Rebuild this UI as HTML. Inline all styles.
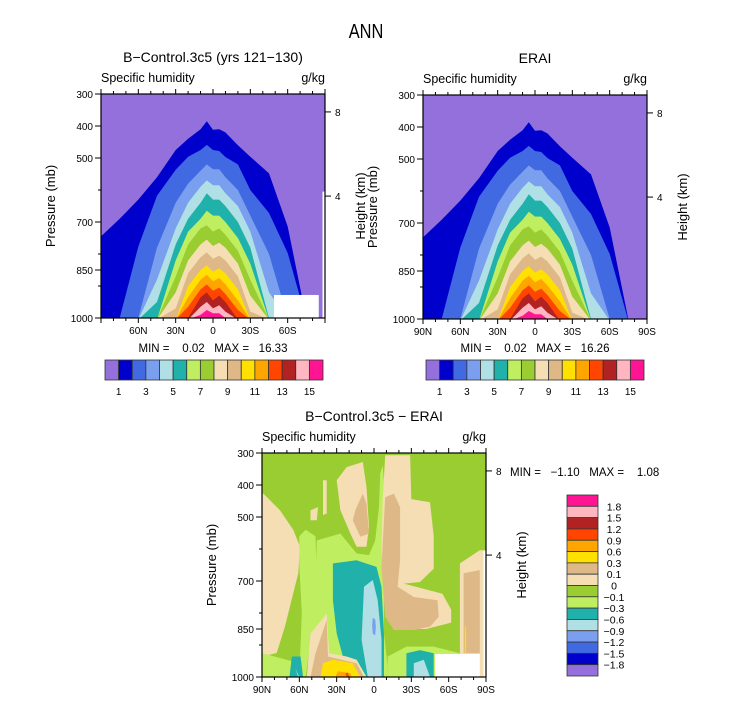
<!DOCTYPE html>
<html><head><meta charset="utf-8"><style>
body{margin:0;background:#fff;}
svg text{font-family:"Liberation Sans",sans-serif;fill:#000;}
</style></head><body>
<svg id="fig" width="733" height="702" viewBox="0 0 733 702" xmlns="http://www.w3.org/2000/svg">
<text x="366" y="38" font-size="20" text-anchor="middle" transform="translate(366 0) scale(0.82 1) translate(-366 0)">ANN</text>
</svg>
<script>
const NS="http://www.w3.org/2000/svg";
const svg=document.getElementById('fig');
const absColors=["#9370DB","#0000CD","#4169E1","#7B9FEF","#B0E0E6","#20B2AA","#BFEF60","#9ACD32","#F5DEB3","#DEB887","#FFE000","#FFA500","#FF4500","#B22222","#FFB6C1","#FF1493"];
const absTicks=["1","3","5","7","9","11","13","15"];
const diffLabels=["1.8","1.5","1.2","0.9","0.6","0.3","0.1","0","\u22120.1","\u22120.3","\u22120.6","\u22120.9","\u22121.2","\u22121.5","\u22121.8"];
const diffColors=["#FF1493","#FFB6C1","#B22222","#FF4500","#FFA500","#FFE000","#DEB887","#F5DEB3","#9ACD32","#BFEF60","#20B2AA","#B0E0E6","#7B9FEF","#4169E1","#0000CD","#9370DB"];
const lats=[90,75,60,45,30,20,10,5,0,-5,-10,-20,-30,-45,-60,-75,-90];
// pressure (mb) of the upper boundary of each level band (>=1000 => no fill)
const levelBounds=[
[745,690,630,560,475,440,410,385,412,410,420,460,496,548,714,1000,1010],
[1010,1000,777,618,537,496,475,459,475,478,497,520,600,672,797,1010,1010],
[1010,1010,1000,780,640,580,540,520,535,535,560,600,680,800,1000,1010,1010],
[1010,1010,1005,880,720,640,590,570,585,585,610,650,730,920,1010,1010,1010],
[1010,1010,1010,950,770,690,640,610,630,630,650,700,780,1000,1010,1010,1010],
[1010,1010,1010,1005,820,730,690,665,680,680,700,750,830,1010,1010,1010,1010],
[1010,1010,1010,1010,870,770,720,710,730,720,740,790,880,1010,1010,1010,1010],
[1010,1010,1010,1010,920,820,770,755,775,765,780,830,930,1010,1010,1010,1010],
[1010,1010,1010,1010,970,860,810,795,815,805,820,870,980,1010,1010,1010,1010],
[1010,1010,1010,1010,1005,900,850,835,855,845,860,910,1010,1010,1010,1010,1010],
[1010,1010,1010,1010,1010,935,880,865,885,875,895,945,1010,1010,1010,1010,1010],
[1010,1010,1010,1010,1010,965,910,895,915,905,925,975,1010,1010,1010,1010,1010],
[1010,1010,1010,1010,1010,1000,935,920,945,930,950,1005,1010,1010,1010,1010,1010],
[1010,1010,1010,1010,1010,1010,965,950,970,960,980,1010,1010,1010,1010,1010,1010],
[1010,1010,1010,1010,1010,1010,990,975,985,985,1000,1010,1010,1010,1010,1010,1010]];
// diff regions: [color index into diffColors, lat list, pressure list]
const diffRegions=[
[7,[88.9,75.5,64.8,59.5,60.8,66.2,71.5,78.2,90,90],[427,479,541,593,676,759,842,925,936,427]],
[9,[90,80,60,55,90],[925,936,957,1000,1000]],
[9,[60,55,47,46,50,55,60,58,60],[560,540,560,700,860,1000,1000,800,650]],
[10,[66,59,57,68],[936,936,1000,1000]],
[11,[63,60,61],[975,1000,1000]],
[9,[46,27,14,4,-1,-4,-5,-7,-9,-8,-8,-11,-11,51,51,47],[573,552,614,619,573,469,365,339,448,656,864,968,1000,1000,864,708]],
[10,[33,14,-2,-6,-8,-8,6,14,25,30,33],[645,635,656,718,864,1000,1000,946,936,864,760]],
[11,[8,1,-3,-6,-6,5,10],[718,697,760,884,1000,1000,884]],
[12,[1,-1,-1.5,-1,1,1.5],[815,820,845,870,865,840]],
[7,[54,51,38,36,22,14,6],[1000,864,802,926,936,946,1000]],
[6,[51,47,38,37,14,8],[1000,926,822,936,957,1000]],
[5,[43,41,33,17,11],[1000,957,946,957,1000]],
[4,[31,29,19,18],[1000,982,988,1000]],
[3,[23,21,20,22],[990,986,1000,1000]],
[7,[30,22,9,6,4,6,14,19,27],[385,344,328,406,531,593,593,552,479]],
[6,[15,9,6,4,11,17],[479,427,458,552,562,510]],
[7,[51,45,46,51],[479,469,510,510]],
[7,[41,38,38,41],[385,385,489,494]],
[7,[-9,-29,-30,-45,-48,-48,-37,-24,-55,-62,-62,-42,-25,-14,-9,-6,-7],[307,307,444,454,558,662,703,708,740,790,830,850,850,820,760,604,448]],
[6,[-9,-16,-21,-21,-19,-32,-51,-52,-45,-32,-16,-9,-6],[438,427,469,635,718,750,760,812,843,853,853,812,656]],
[7,[-69,-85,-89,-89,-69,-69],[645,604,604,1000,1000,864]],
[6,[-72,-85,-85,-72],[676,666,926,926]],
[5,[-73,-74,-74,-73],[842,842,926,926]],
[9,[-11,-26,-48,-69,-69,-11],[936,905,905,926,1000,1000]],
[10,[-26,-37,-48,-48,-26],[926,916,926,1000,1000]],
[11,[-32,-40,-45,-32],[957,946,1000,1000]]];
const xTickLabs=["90N","60N","30N","0","30S","60S","90S"];
const xTickVals=[90,60,30,0,-30,-60,-90];
const pTicks=[300,400,500,700,850,1000];
const hTicks=[["8",356],["4",619]];

function el(tag,attrs,parent){const e=document.createElementNS(NS,tag);for(const k in attrs)e.setAttribute(k,attrs[k]);(parent||svg).appendChild(e);return e;}
function txt(s,x,y,size,anchor,parent){const t=el('text',{x:x,y:y,'font-size':size,'text-anchor':anchor||'start'},parent);t.textContent=s;return t;}

function panel(ox,oy,name,title,showEnds,mode,missing,minmax){
  const W=224,H=224;
  const X=lat=>ox+(90-lat)/180*W;
  const Y=p=>oy+(p-300)/700*H;
  const g=el('g',{});
  
  
  const clip=el('clipPath',{id:'c'+name},g);el('rect',{x:ox,y:oy,width:W,height:H},clip);
  const pg=el('g',{'clip-path':'url(#c'+name+')'},g);
  if(mode==='abs'){
    el('rect',{x:ox,y:oy,width:W,height:H,fill:absColors[0]},pg);
    levelBounds.forEach((arr,i)=>{
      let d='M'+X(90)+','+Y(1000);
      arr.forEach((p,j)=>{d+=' L'+X(lats[j]).toFixed(1)+','+Y(Math.min(p,1005)).toFixed(1);});
      d+=' L'+X(-90)+','+Y(1000)+'Z';
      const path=el('path',{d:d,fill:absColors[i+1]},pg);
      
      
    });
  }else{
    el('rect',{x:ox,y:oy,width:W,height:H,fill:'#9ACD32'},pg);
    diffRegions.forEach((r,i)=>{
      const pts=r[1].map((la,j)=>X(la).toFixed(1)+','+Y(r[2][j]).toFixed(1)).join(' ');
      const poly=el('polygon',{points:pts,fill:diffColors[r[0]]},pg);
      
      
    });
  }
  if(missing){
    el('rect',{x:X(-49),y:Y(928),width:X(-85)-X(-49),height:Y(1000)-Y(928),fill:'#fff'},pg);
    el('rect',{x:X(-88),y:Y(605),width:X(-90)-X(-88)+1,height:Y(1000)-Y(605),fill:'#fff'},pg);
  }
  el('rect',{x:ox,y:oy,width:W,height:H,fill:'none',stroke:'#000','stroke-width':1.2},g);
  for(let la=90;la>=-90;la-=10){
    const maj=la%30===0;const L=maj?5:3;
    el('line',{x1:X(la),x2:X(la),y1:oy+H,y2:oy+H+L,stroke:'#000'},g);
    el('line',{x1:X(la),x2:X(la),y1:oy,y2:oy-L,stroke:'#000'},g);
  }
  xTickVals.forEach((v,i)=>{
    if(!showEnds&&(v===90||v===-90))return;
    txt(xTickLabs[i],X(v),oy+H+16,10,'middle',g);
  });
  for(let p=300;p<=1000;p+=100){el('line',{x1:ox,x2:ox-3,y1:Y(p),y2:Y(p),stroke:'#000'},g);}
  pTicks.forEach(p=>{el('line',{x1:ox,x2:ox-6,y1:Y(p),y2:Y(p),stroke:'#000'},g);txt(String(p),ox-8,Y(p)+4,10,'end',g);});
  hTicks.forEach(h=>{el('line',{x1:ox+W,x2:ox+W+6,y1:Y(h[1]),y2:Y(h[1]),stroke:'#000'},g);txt(h[0],ox+W+10,Y(h[1])+4,10,'start',g);});
  const yl=txt('Pressure (mb)',0,0,13,'middle',g);yl.setAttribute('transform','translate('+(ox-46)+','+(oy+H/2)+') rotate(-90)');
  
  const yr=txt('Height (km)',0,0,13,'middle',g);yr.setAttribute('transform','translate('+(ox+W+40)+','+(oy+H/2)+') rotate(-90)');
  
  txt(title,ox+W/2,oy-32,14,'middle',g);
  txt('Specific humidity',ox,oy-12,12.5,'start',g);
  txt('g/kg',ox+W,oy-12,12.5,'end',g);
  if(minmax){const m=txt(minmax[0],minmax[1],minmax[2],11.5,minmax[3],g);m.style.whiteSpace='pre';}
}
panel(101,94,'panel-model','B\u2212Control.3c5 (yrs 121\u2212130)',false,'abs',true,['MIN =    0.02   MAX =   16.33',213,352,'middle']);
panel(423,95,'panel-erai','ERAI',true,'abs',false,['MIN =    0.02   MAX =   16.26',535,352,'middle']);
panel(262,453,'panel-diff','B\u2212Control.3c5 \u2212 ERAI',true,'diff',true,['MIN =   \u22121.10   MAX =    1.08',510,476,'start']);

function hbar(x0,name){
  const g=el('g',{});
  const w=(323-105)/16;
  absColors.forEach((c,i)=>{el('rect',{x:x0+i*w,y:360,width:w,height:20,fill:c,stroke:'#333','stroke-width':0.8},g);});
  absTicks.forEach((t,i)=>{txt(t,x0+(2*i+1)*w,395,10,'middle',g);});
}
hbar(105,'colorbar-model');hbar(426,'colorbar-erai');
(function(){
  const g=el('g',{});
  const h=(676-495)/16;
  diffColors.forEach((c,i)=>{el('rect',{x:567,y:495+i*h,width:31,height:h,fill:c,stroke:'#333','stroke-width':0.8},g);});
  diffLabels.forEach((t,i)=>{txt(t,614,495+(i+1)*h+4,10.5,'middle',g);});
})();
</script>
</body></html>
